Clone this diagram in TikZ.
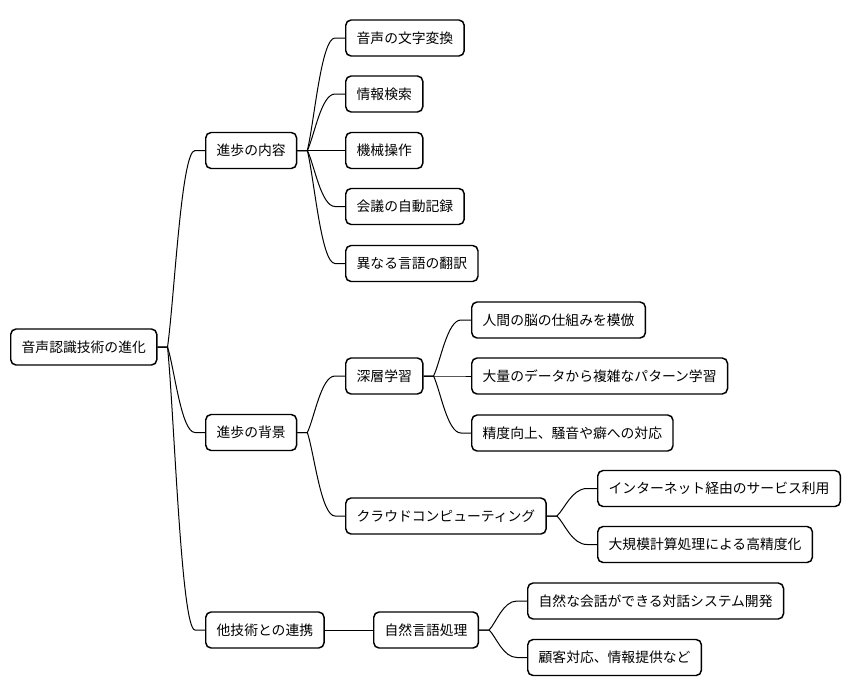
\documentclass[tikz,border=0pt]{standalone}
\usepackage{fontspec}
\setmainfont{Noto Sans CJK JP}
\usetikzlibrary{calc}
\tikzset{
  box/.style={draw=black, fill=white, line width=1.1pt, rounded corners=4pt,
    anchor=west, inner xsep=8.2pt, inner ysep=0pt, minimum height=27pt,
    font=\fontsize{10.35pt}{12pt}\selectfont},
  link/.style={line width=0.75pt, to path={
    let \p1=(\tikztostart), \p2=(\tikztotarget) in
    -- (\x1+7.5pt,\y1)
    .. controls ({\x1+7.5pt+0.25*(\x2-\x1-15pt)},{\y1+0.25*(\y2-\y1)})
       and ({\x1+7.5pt+0.5*(\x2-\x1-15pt)},\y2) ..
    (\x2-7.5pt,\y2) -- (\x2,\y2)}}
}
\begin{document}
\begin{tikzpicture}[x=0.75pt,y=-0.75pt]
\useasboundingbox[fill=white] (0,0) rectangle (852,696);
% root
\node[box] (root) at (10,347) {音声認識技術の進化};
% level 1
\node[box] (n1) at (205,150.5) {進歩の内容};
\node[box] (n2) at (205,432.5) {進歩の背景};
\node[box] (n3) at (205,630) {他技術との連携};
% children of n1
\node[box] (a1) at (345,38) {音声の文字変換};
\node[box] (a2) at (345,94) {情報検索};
\node[box] (a3) at (345,150.5) {機械操作};
\node[box] (a4) at (345,206.5) {会議の自動記録};
\node[box] (a5) at (345,263.5) {異なる言語の翻訳};
% children of n2
\node[box] (b1) at (345,376) {深層学習};
\node[box] (b2) at (345,516) {クラウドコンピューティング};
\node[box] (b11) at (471,320) {人間の脳の仕組みを模倣};
\node[box] (b12) at (471,376) {大量のデータから複雑なパターン学習};
\node[box] (b13) at (471,433) {精度向上、騒音や癖への対応};
\node[box] (b21) at (597,488.5) {インターネット経由のサービス利用};
\node[box] (b22) at (597,544.5) {大規模計算処理による高精度化};
% children of n3
\node[box] (c1) at (373,630) {自然言語処理};
\node[box] (c11) at (527,601) {自然な会話ができる対話システム開発};
\node[box] (c12) at (527,657.5) {顧客対応、情報提供など};
% links
\foreach \p/\c in {root/n1,root/n2,root/n3,n1/a1,n1/a2,n1/a3,n1/a4,n1/a5,
  n2/b1,n2/b2,b1/b11,b1/b12,b1/b13,b2/b21,b2/b22,n3/c1,c1/c11,c1/c12}
  \draw[link] (\p.east) to (\c.west);
\end{tikzpicture}
\end{document}
